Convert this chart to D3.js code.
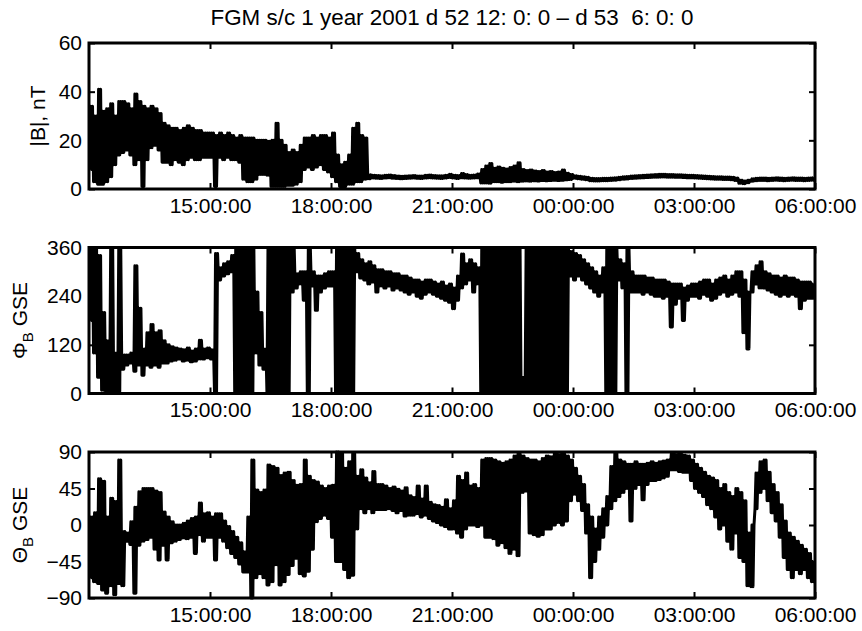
<!DOCTYPE html>
<html>
<head>
<meta charset="utf-8">
<script src="https://cdn.jsdelivr.net/npm/d3@7"></script>
<style>
  body { margin: 0; background: #fff; }
  text { font-family: "Liberation Sans", Arial, Helvetica, sans-serif; }
</style>
</head>
<body>
<div id="chart"></div>
<script>
// FGM s/c 1, 2001 day 52 12:00 -> day 53 06:00
// each series is kept as min / max per 6 minute bin (0.1 h)
const startTime = Date.UTC(2001, 1, 21, 12);
const binHours = 0.1;

// |B| in nT
const bLo = [
  8, 3, 2, 2, 3, 5, 10, 14, 15, 16,
  14, 10, 12, 1, 12, 17, 18, 16, 11, 11,
  10, 12, 11, 10, 12, 13, 12, 12, 13, 13,
  13, 1, 13, 12, 13, 12, 12, 11, 4, 3,
  3, 4, 6, 6, 5.7, 1, 1, 1, 1, 1.5,
  1.5, 2, 3, 8, 9, 8, 9, 10, 8, 7,
  5, 3, 1, 1, 2, 2, 3, 3, 4, 4.2,
  4.5, 4.4, 4.3, 4.5, 4.6, 4.4, 4.3, 4.2, 4.3, 4.4,
  4.5, 4.4, 4.3, 4.5, 4.6, 4.5, 4.4, 4.3, 4.5, 4.7,
  4.5, 4.3, 4.6, 4.5, 4.4, 4.5, 4.6, 2.5, 2.5, 2.4,
  3, 3, 2.8, 3, 3, 3.2, 3, 3.2, 3.3, 3.2,
  3.4, 3.3, 3.5, 3.4, 3.5, 3.6, 3.5, 3.6, 3.8, 3.9,
  4.4, 4.2, 4.0, 3.8, 3.4, 3.3, 3.3, 3.4, 3.4, 3.5,
  3.6, 3.8, 4.0, 4.1, 4.3, 4.4, 4.5, 4.6, 4.7, 4.8,
  4.9, 4.9, 5.0, 4.9, 4.9, 4.8, 4.8, 4.7, 4.6, 4.6,
  4.5, 4.4, 4.3, 4.2, 4.1, 4.0, 4.0, 3.9, 3.9, 3.8,
  3.5, 2.4, 2.2, 2.6, 3.2, 3.4, 3.5, 3.5, 3.4, 3.5,
  3.6, 3.5, 3.4, 3.5, 3.6, 3.5, 3.5, 3.4, 3.5, 3.6
];
const bHi = [
  34, 30, 41, 32, 33, 35, 30, 36, 36, 35,
  33, 39, 36, 34, 33, 34, 33, 31, 27, 26,
  25, 25, 24, 25, 26, 25, 24, 24, 23, 23,
  23, 22, 23, 22, 23, 22, 21, 22, 21, 21,
  21, 20, 20, 20, 19.6, 20, 27, 20, 18, 15,
  16, 15, 18, 21, 21, 22, 21, 22, 22, 21,
  23, 14, 10, 11, 14, 25, 27, 22, 21, 5.8,
  5.6, 5.5, 5.4, 5.6, 5.7, 5.5, 5.3, 5.2, 5.3, 5.4,
  5.5, 5.3, 5.3, 5.6, 5.7, 5.5, 5.4, 5.4, 5.6, 6.0,
  5.6, 5.5, 6.4, 5.9, 5.6, 5.7, 6.2, 8, 9.5, 10.5,
  8.5, 9, 8.5, 8.2, 8.8, 9.5, 10.8, 8, 7.6, 7.8,
  7.4, 7.2, 7.6, 7.0, 7.2, 6.8, 7.0, 7.8, 6.5, 6.0,
  5.4, 5.2, 5.0, 4.8, 4.4, 4.3, 4.3, 4.4, 4.4, 4.5,
  4.6, 4.8, 5.0, 5.1, 5.3, 5.4, 5.5, 5.6, 5.7, 5.8,
  5.9, 6.0, 6.0, 5.9, 5.9, 5.8, 5.8, 5.7, 5.6, 5.6,
  5.5, 5.4, 5.3, 5.2, 5.1, 5.0, 5.0, 4.9, 4.9, 4.8,
  4.5, 3.6, 3.3, 3.6, 4.2, 4.4, 4.5, 4.5, 4.4, 4.5,
  4.6, 4.5, 4.4, 4.5, 4.6, 4.5, 4.5, 4.4, 4.5, 4.6
];

// Phi_B GSE in degrees
const phiLo = [
  180, 100, 40, 8, 5, 5, 5, 5, 60, 70,
  75, 55, 70, 45, 70, 65, 70, 65, 75, 75,
  80, 82, 85, 80, 82, 78, 80, 85, 85, 88,
  85, 0, 280, 290, 295, 300, 0, 0, 0, 0,
  0, 100, 70, 60, 0, 0, 0, 0, 0, 0,
  250, 260, 270, 230, 0, 265, 205, 250, 260, 265,
  265, 0, 0, 0, 0, 0, 300, 285, 280, 270,
  275, 250, 265, 260, 265, 255, 260, 255, 250, 245,
  250, 240, 235, 245, 250, 245, 240, 235, 230, 225,
  209, 230, 260, 270, 280, 250, 270, 0, 0, 0,
  0, 0, 0, 0, 0, 0, 0, 0, 0, 0,
  0, 0, 0, 0, 0, 0, 0, 0, 0, 290,
  280, 290, 280, 270, 260, 250, 240, 250, 0, 0,
  0, 280, 260, 0, 250, 250, 250, 245, 250, 245,
  240, 240, 235, 240, 164, 220, 235, 180, 230, 240,
  240, 235, 245, 240, 230, 235, 245, 250, 240, 245,
  250, 240, 150, 110, 250, 270, 260, 260, 255, 250,
  245, 240, 245, 240, 245, 240, 209, 230, 235, 235
];
const phiHi = [
  360, 360, 340, 200, 130, 360, 100, 360, 95, 95,
  100, 315, 210, 110, 150, 170, 150, 155, 130, 120,
  115, 112, 110, 108, 112, 105, 110, 131, 110, 112,
  108, 345, 310, 320, 325, 340, 360, 360, 360, 360,
  360, 250, 200, 110, 360, 360, 360, 360, 360, 360,
  360, 295, 300, 300, 360, 300, 290, 290, 295, 300,
  300, 360, 360, 360, 360, 360, 345, 330, 320, 325,
  315, 305, 305, 300, 300, 295, 295, 290, 290, 285,
  280, 280, 275, 280, 280, 275, 270, 275, 265, 270,
  260, 290, 344, 320, 330, 320, 310, 360, 360, 360,
  360, 360, 360, 360, 360, 360, 360, 40, 360, 360,
  360, 360, 360, 360, 360, 360, 360, 360, 360, 350,
  345, 340, 330, 320, 310, 300, 290, 310, 360, 360,
  360, 330, 320, 360, 300, 290, 290, 290, 285, 285,
  280, 280, 280, 275, 270, 270, 270, 260, 265, 270,
  270, 275, 280, 280, 270, 280, 285, 290, 280, 290,
  300, 300, 280, 250, 300, 315, 325, 300, 295, 290,
  290, 285, 290, 285, 285, 280, 275, 275, 275, 270
];

// Theta_B GSE in degrees
const thetaLo = [
  -65, -70, -72, -80, -84, -75, -86, -72, -75, -20,
  -24, -84, -25, -20, -18, -15, -30, -43, -25, -43,
  -22, -20, -18, -16, -17, -15, -35, -12, -20, -15,
  -15, -43, -15, -20, -28, -35, -40, -48, -58, -58,
  -90, -65, -60, -65, -74, -70, -49, -74, -70, -61,
  -50, -41, -60, -63, -57, -30, 4, 8, 12, 8,
  -15, -45, -45, -55, -65, -62, -5, 20, 15, 20,
  15, 19, 19, 19, 20, 18, 15, 18, 11, 12,
  12, 14, 10, 12, 8, 5, 3, 0, -2, -5,
  -5, -10, -15, -5, 0, 0, -2, 0, -15, -15,
  -17, -25, -22, -28, -35, -30, -38, 40, 42, -10,
  -12, -14, -12, -5, -5, 0, 3, 0, 5, 30,
  38, 30, 18, -10, -65, -45, -30, -15, 0, 20,
  30, 35, 40, 45, 5, 45, 50, 31, 50, 55,
  55, 56, 58, 60, 68, 68, 66, 65, 65, 55,
  45, 40, 35, 25, 20, 10, -5, 0, -20, -30,
  -10, -40, -45, -75, -76, 20, 40, 45, 30, 15,
  5, -15, -40, -55, -65, -55, -60, -55, -65, -70
];
const thetaHi = [
  10, 15, 57, 54, 10, 33, 29, 80, -8, -10,
  4, 22, 41, 45, 45, 45, 42, 40, 16, 10,
  4, 0, 0, 2, 5, 8, 10, 27, 14, 15,
  10, 14, 14, 5, -2, -8, -15, -22, -33, 10,
  80, 43, 40, 43, 74, 72, 70, 61, 64, 65,
  55, 49, 50, 80, 60, 55, 53, 48, 45, 48,
  49, 90, 88, 70, 78, 88, 60, 68, 58, 52,
  66, 50, 50, 48, 45, 47, 44, 42, 46, 36,
  34, 48, 32, 48, 28, 25, 24, 22, 31, 20,
  30, 60, 55, 64, 48, 50, 45, 80, 82, 82,
  80, 78, 76, 78, 80, 85, 88, 85, 82, 80,
  80, 78, 82, 85, 84, 89, 87, 89, 85, 80,
  70, 60, 50, 25, 10, -5, 10, 20, 35, 72,
  89, 80, 78, 75, 75, 78, 75, 75, 76, 78,
  76, 78, 79, 80, 88, 87, 88, 86, 85, 80,
  75, 70, 65, 60, 58, 55, 45, 50, 40, 35,
  45, 40, 30, -10, 0, 64, 78, 80, 65, 50,
  40, 25, 5, -10, -15, -20, -25, -30, -35, -45
];

// axes
const tickHours = [3, 6, 9, 12, 15, 18];
const bTicks = [0, 20, 40, 60];
const phiTicks = [0, 120, 240, 360];
const thetaTicks = [-90, -45, 0, 45, 90];

const titleText = "FGM s/c 1 year 2001 d 52 12: 0: 0 \u2013 d 53  6: 0: 0";

const W = 862, H = 631;
const margin = {left: 89, right: 47, top: 43};
const panelW = W - margin.left - margin.right;
const panelH = 146, panelStep = 204.5;
const font = 21;

const hourDate = h => new Date(startTime + h * 3600e3);

const svg = d3.select("#chart").append("svg")
    .attr("width", W)
    .attr("height", H);

svg.append("text")
    .attr("x", margin.left + panelW / 2)
    .attr("y", 25)
    .attr("text-anchor", "middle")
    .attr("font-size", 22.4)
    .style("white-space", "pre")
    .text(titleText);

const x = d3.scaleUtc()
    .domain([hourDate(0), hourDate(18)])
    .range([0, panelW]);

const panels = [
    {lo: bLo, hi: bHi, domain: [0, 60], ticks: bTicks, label: ["|B|, nT"], labelX: -44},
    {lo: phiLo, hi: phiHi, domain: [0, 360], ticks: phiTicks, label: ["\u03A6", "B", " GSE"], labelX: -62},
    {lo: thetaLo, hi: thetaHi, domain: [-90, 90], ticks: thetaTicks, label: ["\u0398", "B", " GSE"], labelX: -62}
];

// min/max per bin -> the trace swings lo, hi, lo, hi inside each bin so dense noise fills in solid
function zigzag(lo, hi) {
    const pts = [];
    lo.forEach((l, i) => {
        const t = i * binHours;
        pts.push([t + binHours / 8, l]);
        pts.push([t + binHours * 3 / 8, hi[i]]);
        pts.push([t + binHours * 5 / 8, l]);
        pts.push([t + binHours * 7 / 8, hi[i]]);
    });
    return pts;
}

panels.forEach((p, k) => {
    const g = svg.append("g")
        .attr("transform", "translate(" + margin.left + "," + (margin.top + k * panelStep) + ")");

    const y = d3.scaleLinear().domain(p.domain).range([panelH, 0]);

    const line = d3.line()
        .x(d => x(hourDate(d[0])))
        .y(d => y(d[1]));

    g.append("path")
        .datum(zigzag(p.lo, p.hi))
        .attr("fill", "none")
        .attr("stroke", "#000")
        .attr("stroke-width", 3)
        .attr("stroke-linejoin", "round")
        .attr("d", line);

    const tv = tickHours.map(hourDate);

    const xb = g.append("g")
        .attr("transform", "translate(0," + panelH + ")")
        .call(d3.axisBottom(x).tickValues(tv).tickSize(-6).tickSizeOuter(0).tickPadding(9)
            .tickFormat(d3.utcFormat("%H:%M:%S")));
    const xt = g.append("g")
        .call(d3.axisTop(x).tickValues(tv).tickSize(-6).tickSizeOuter(0).tickFormat(""));
    const yl = g.append("g")
        .call(d3.axisLeft(y).tickValues(p.ticks).tickSize(-6).tickSizeOuter(0).tickPadding(7));
    const yr = g.append("g")
        .attr("transform", "translate(" + panelW + ",0)")
        .call(d3.axisRight(y).tickValues(p.ticks).tickSize(-6).tickSizeOuter(0).tickFormat(""));

    [xb, xt, yl, yr].forEach(a => {
        a.select(".domain").remove();
        a.attr("font-size", font).attr("font-family", null);
        a.selectAll("line").attr("stroke-width", 2);
        a.selectAll("text").attr("fill", "#000");
    });

    g.append("rect")
        .attr("width", panelW)
        .attr("height", panelH)
        .attr("fill", "none")
        .attr("stroke", "#000")
        .attr("stroke-width", 3);

    const lab = g.append("text")
        .attr("transform", "translate(" + p.labelX + "," + panelH / 2 + ") rotate(-90)")
        .attr("text-anchor", "middle")
        .attr("font-size", font);
    if (p.label.length === 1) {
        lab.text(p.label[0]);
    } else {
        lab.append("tspan").text(p.label[0]);
        lab.append("tspan").attr("dy", 6).attr("font-size", 15).text(p.label[1]);
        lab.append("tspan").attr("dy", -6).style("white-space", "pre").text(p.label[2]);
    }
});
</script>
</body>
</html>
